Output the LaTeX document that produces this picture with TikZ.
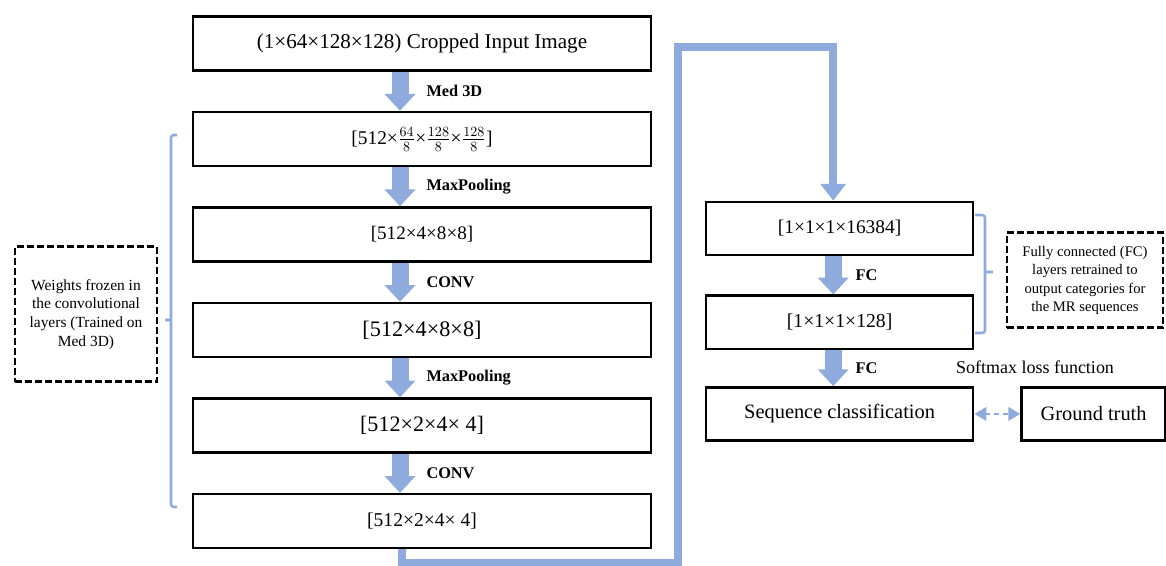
\documentclass[tikz,border=0pt]{standalone}
\usepackage{fontspec}
\setmainfont{Liberation Serif}
\usepackage{tikz}
\usetikzlibrary{arrows.meta,shapes}
\usetikzlibrary{positioning}
\definecolor{flowblue}{HTML}{8FAADC}
\tikzset{layer node/.style={draw,line width=1.8pt,minimum width=11.45cm,minimum height=1.35cm,inner sep=0pt},
	fc node/.style={layer node,minimum width=6.675cm,minimum height=1.33cm},
	note node/.style={draw,line width=2pt,dash pattern=on 0.17cm off 0.08cm,align=center,inner sep=0pt,font=\fontsize{11}{13.2}\selectfont},
	flow/.style={color=flowblue,line width=0.425cm,-{Triangle[width=0.75cm,length=0.42cm]}},
	flow label/.style={text=black,font=\fontsize{11.6}{14}\selectfont\bfseries,inner sep=0pt,right=0.45cm},
	route/.style={color=flowblue,line width=0.2cm,-{Triangle[width=0.62cm,length=0.42cm]}},
	loss/.style={color=flowblue,line width=2pt,dash pattern=on 0.12cm off 0.1cm,{Triangle[width=0.33cm,length=0.3cm]}-{Triangle[width=0.33cm,length=0.3cm]}},
	brace/.style={draw=flowblue,line width=1.8pt,rounded corners=2pt},
}

\begin{document}
\begin{tikzpicture}
		\useasboundingbox (0,0) rectangle (29.15,-14.15);
		% frozen convolutional part
		\node[layer node,font=\fontsize{15}{18}\selectfont] (1) at (10.55,-1.0875) {(1×64×128×128) Cropped Input Image};
		\node[layer node,font=\fontsize{13.8}{16}\selectfont] (2) [below = 0.975cm of 1] {[512×$\frac{64}{8}$×$\frac{128}{8}$×$\frac{128}{8}$]};
		\node[layer node,font=\fontsize{13.6}{16}\selectfont] (3) [below = 0.975cm of 2] {[512×4×8×8]};
		\node[layer node,font=\fontsize{15.8}{18}\selectfont] (4) [below = 0.975cm of 3] {[512×4×8×8]};
		\node[layer node,font=\fontsize{15.7}{18}\selectfont] (5) [below = 0.975cm of 4] {[512×2×4× 4]};
		\node[layer node,font=\fontsize{13.9}{16}\selectfont] (6) [below = 0.975cm of 5] {[512×2×4× 4]};
		
		\path[flow]
		([xshift=-0.55cm]1.south) edge node[flow label] {Med 3D} ([xshift=-0.55cm]2.north)
		([xshift=-0.55cm]2.south) edge node[flow label] {MaxPooling} ([xshift=-0.55cm]3.north)
		([xshift=-0.55cm]3.south) edge node[flow label] {CONV} ([xshift=-0.55cm]4.north)
		([xshift=-0.55cm]4.south) edge node[flow label] {MaxPooling} ([xshift=-0.55cm]5.north)
		([xshift=-0.55cm]5.south) edge node[flow label] {CONV} ([xshift=-0.55cm]6.north)
		;
		%%
		% retrained fully connected part
		\node[fc node,font=\fontsize{13.8}{16}\selectfont] (7) at (20.99,-5.7125) {[1×1×1×16384]};
		\node[fc node,font=\fontsize{14}{16}\selectfont] (8) [below = 0.95cm of 7] {[1×1×1×128]};
		\node[fc node,font=\fontsize{14.5}{17}\selectfont] (9) [below = 0.9cm of 8] {Sequence classification};
		\node[fc node,minimum width=3.6cm,font=\fontsize{14.5}{17}\selectfont] (10) [right = 1.15cm of 9] {Ground truth};
		
		\path[flow]
		([xshift=-0.16cm]7.south) edge node[flow label,right=0.35cm] {FC} ([xshift=-0.16cm]8.north)
		([xshift=-0.16cm]8.south) edge node[flow label,right=0.35cm] {FC} ([xshift=-0.16cm]9.north)
		;
		\draw[loss] (9) -- (10);
		\node[font=\fontsize{12.8}{15}\selectfont] (softmax) at (25.875,-9.175) {Softmax loss function};
		
		% feature map goes over to the FC layers
		\coordinate (low) at (16.94,-14.075);
		\coordinate (high) at (16.94,-1.1875);
		\draw[route] ([xshift=-0.5cm]6.south) |- (low) -- (high) -| ([xshift=-0.16cm]7.north);
		%%
		% braces and notes
		\draw[brace] (4.425,-3.375) -- (4.275,-3.375) -- (4.275,-12.675) -- (4.425,-12.675) (4.275,-8.0) -- (4.125,-8.0);
		\draw[brace] (24.375,-5.375) -- (24.625,-5.375) -- (24.625,-8.325) -- (24.375,-8.325) (24.625,-6.8) -- (24.825,-6.8);
		\node[note node,minimum width=3.55cm,minimum height=3.375cm] (frozen) at (2.15,-7.86) {Weights frozen in\\the convolutional\\layers (Trained on\\Med 3D)};
		\node[note node,minimum width=3.9cm,minimum height=2.375cm,font=\fontsize{10.4}{13}\selectfont] (retrain) at (27.125,-7.01) {Fully connected (FC)\\layers retrained to\\output categories for\\the MR sequences};
	\end{tikzpicture}
\end{document}
